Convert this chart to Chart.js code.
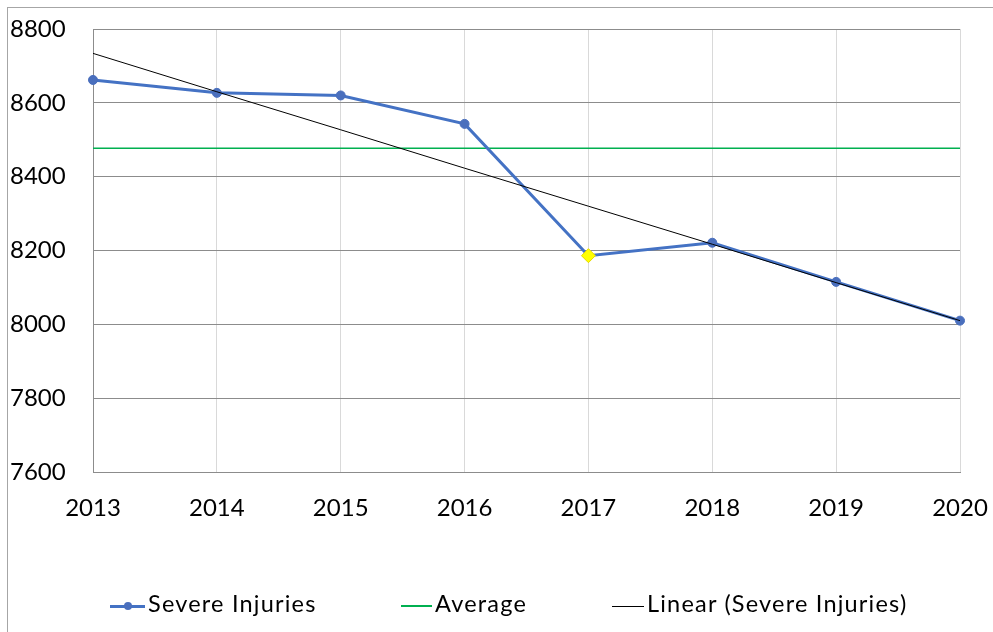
<!DOCTYPE html>
<html>
<head>
<meta charset="utf-8">
<script src="https://cdn.jsdelivr.net/npm/chart.js@4/dist/chart.umd.min.js"></script>
<style>
  html, body { margin: 0; padding: 0; background: #fff; }
  #wrap { position: relative; width: 993px; height: 632px; overflow: hidden; }
  #frame { position: absolute; left: 7px; top: 7px; right: -2px; bottom: -2px; border-top: 1px solid #a6a6a6; border-left: 1px solid #a6a6a6; }
  canvas { position: absolute; left: 0; top: 0; }
  .leg { position: absolute; top: 588px; height: 30px; font-family: Lato, "Liberation Sans", sans-serif; font-size: 23.5px; letter-spacing: 1.2px; color: #000; line-height: 30px; white-space: nowrap; }
  .leg .ln { display: inline-block; vertical-align: middle; position: relative; margin-right: 3px; }
  .leg .dot { position: absolute; top: 50%; left: 50%; width: 8px; height: 8px; margin: -4px 0 0 -4px; border-radius: 50%; background: #4a6fbd; }
</style>
</head>
<body>
<div id="wrap">
  <div id="frame"></div>
  <canvas id="c" width="993" height="632"></canvas>
  <div class="leg" style="left:110px;"><span class="ln" style="width:35px;height:3px;background:#4472C4;"><span class="dot"></span></span>Severe Injuries</div>
  <div class="leg" style="left:401px;"><span class="ln" style="width:31px;height:2px;background:#00B050;"></span>Average</div>
  <div class="leg" style="left:612px;"><span class="ln" style="width:32px;height:1px;background:#000;"></span>Linear (Severe Injuries)</div>
</div>
<script>
const years = ['2013', '2014', '2015', '2016', '2017', '2018', '2019', '2020'];
const severeInjuries = [8662, 8627, 8620, 8543, 8186, 8221, 8115, 8010];
const averageValues = [8477, 8477, 8477, 8477, 8477, 8477, 8477, 8477];
const linearTrend = [8734, 8630, 8527, 8423, 8320, 8217, 8113, 8010];
const yTicks = [7600, 7800, 8000, 8200, 8400, 8600, 8800];

const highlightIndex = 4;
const pointStyles = years.map((y, i) => i === highlightIndex ? 'rectRot' : 'circle');
const pointFill = years.map((y, i) => i === highlightIndex ? '#FFFF00' : '#4a6fbd');
const pointBorder = years.map((y, i) => i === highlightIndex ? '#E6D800' : '#4a6fbd');
const pointRad = years.map((y, i) => i === highlightIndex ? 7 : 4.5);

new Chart(document.getElementById('c'), {
  type: 'line',
  data: {
    labels: years,
    datasets: [
      {
        label: 'Severe Injuries',
        data: severeInjuries,
        borderColor: '#4472C4',
        borderWidth: 3,
        pointStyle: pointStyles,
        pointBackgroundColor: pointFill,
        pointBorderColor: pointBorder,
        pointBorderWidth: 1,
        pointRadius: pointRad,
        tension: 0,
        order: 2
      },
      {
        label: 'Average',
        data: averageValues,
        borderColor: '#00B050',
        borderWidth: 1.5,
        pointRadius: 0,
        order: 3
      },
      {
        label: 'Linear (Severe Injuries)',
        data: linearTrend,
        borderColor: '#000000',
        borderWidth: 1,
        pointRadius: 0,
        order: 1
      }
    ]
  },
  options: {
    responsive: false,
    animation: false,
    devicePixelRatio: 1,
    layout: { padding: { left: 10, right: 33, top: 29, bottom: 100 } },
    plugins: { legend: { display: false }, tooltip: { enabled: false } },
    scales: {
      x: {
        type: 'category',
        offset: false,
        grid: { color: '#d9d9d9', lineWidth: 1, drawTicks: false },
        border: { display: true, color: '#8c8c8c', width: 1 },
        ticks: { color: '#000', padding: 22, maxRotation: 0, autoSkip: false, font: { family: 'Lato', size: 24 } },
        afterFit: (axis) => { axis.height = 60; axis.paddingLeft = 0; axis.paddingRight = 0; }
      },
      y: {
        min: 7600,
        max: 8800,
        afterBuildTicks: (axis) => { axis.ticks = yTicks.map(v => ({ value: v })); },
        grid: { color: '#8c8c8c', lineWidth: 1, drawTicks: false },
        border: { display: true, color: '#8c8c8c', width: 1 },
        ticks: { color: '#000', crossAlign: 'far', padding: 10, font: { family: 'Lato', size: 24 }, callback: (v) => String(v) },
        afterFit: (axis) => { axis.width = 83; axis.paddingTop = 0; axis.paddingBottom = 0; }
      }
    }
  }
});
</script>
</body>
</html>
